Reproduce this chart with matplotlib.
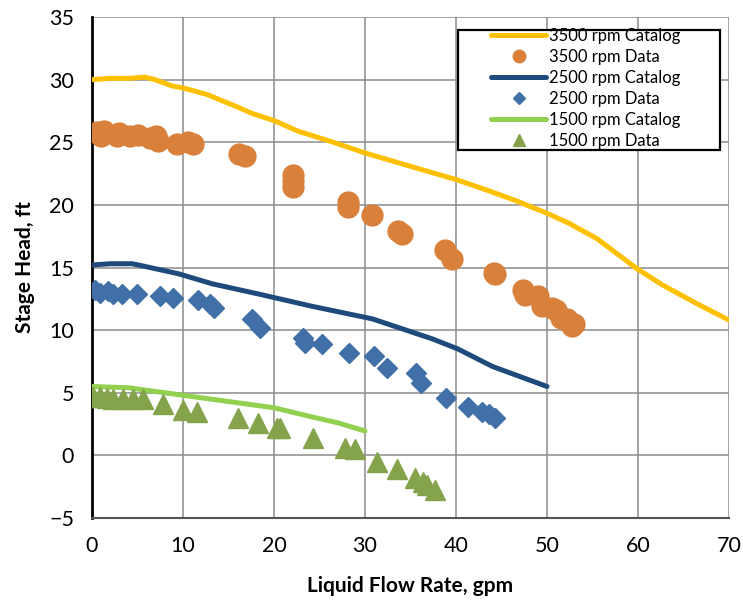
import matplotlib
matplotlib.use("Agg")
import matplotlib.pyplot as plt
from matplotlib.patches import Rectangle

plt.rcParams['font.family'] = ['Lato', 'DejaVu Sans']

# 3500 rpm
cat3500_x = [0, 2, 4, 5.8, 6.9, 8.8, 10.2, 12.7, 15.7, 17.6, 20.1, 22.6, 26.5, 30.2, 34.9, 40.1, 43.7, 46.7, 50.1, 52.5, 55.5, 59.9, 62.7, 66.5, 70]
cat3500_y = [30.0, 30.1, 30.1, 30.2, 30.0, 29.5, 29.3, 28.8, 27.9, 27.3, 26.7, 25.9, 25.0, 24.1, 23.1, 22.0, 21.1, 20.3, 19.3, 18.5, 17.3, 14.9, 13.6, 12.1, 10.8]
data3500_x = [0.5, 1.0, 1.3, 2.7, 3.0, 4.2, 5.0, 6.4, 7.0, 7.3, 9.3, 10.5, 11.1, 16.2, 16.8, 22.1, 22.1, 22.1, 28.1, 28.1, 30.8, 33.6, 34.1, 38.8, 39.6, 44.3, 44.2, 47.4, 47.6, 49.0, 49.4, 50.5, 51.0, 51.5, 52.2, 52.7, 53.0]
data3500_y = [25.8, 25.5, 25.9, 25.5, 25.7, 25.5, 25.6, 25.3, 25.5, 25.1, 24.9, 25.0, 24.9, 24.1, 23.9, 22.4, 21.9, 21.4, 20.2, 19.8, 19.2, 17.9, 17.7, 16.4, 15.7, 14.5, 14.6, 13.2, 12.8, 12.7, 11.9, 11.8, 11.6, 11.0, 10.9, 10.3, 10.5]

# 2500 rpm
cat2500_x = [0, 2, 4.4, 5.1, 9.5, 13.2, 18.2, 24.2, 30.8, 37.4, 40.2, 44.0, 50.0]
cat2500_y = [15.2, 15.3, 15.3, 15.2, 14.5, 13.7, 12.9, 11.9, 10.9, 9.3, 8.5, 7.1, 5.5]
data2500_x = [0.3, 0.9, 1.8, 2.3, 3.3, 4.9, 7.5, 8.9, 11.6, 13.0, 13.4, 17.6, 18.5, 23.2, 23.4, 25.3, 28.2, 31.0, 32.4, 35.6, 36.2, 38.9, 41.3, 42.9, 43.6, 44.3]
data2500_y = [13.2, 13.0, 13.1, 12.9, 12.9, 12.9, 12.7, 12.6, 12.4, 12.1, 11.8, 10.9, 10.2, 9.4, 9.0, 8.9, 8.2, 7.9, 7.0, 6.6, 5.8, 4.6, 3.9, 3.5, 3.3, 3.0]

# 1500 rpm
cat1500_x = [0, 4, 8, 12, 16, 20, 24, 27, 30]
cat1500_y = [5.5, 5.4, 5.0, 4.6, 4.2, 3.8, 3.1, 2.6, 1.95]
data1500_x = [0.1, 0.9, 1.6, 2.3, 3.4, 4.5, 5.6, 7.8, 10.0, 11.5, 16.0, 18.2, 20.3, 20.7, 24.3, 27.8, 28.9, 31.3, 33.5, 35.5, 36.4, 36.8, 37.7]
data1500_y = [4.7, 4.7, 4.6, 4.5, 4.5, 4.5, 4.5, 4.1, 3.6, 3.5, 3.0, 2.6, 2.2, 2.2, 1.4, 0.6, 0.5, -0.5, -1.1, -1.8, -2.1, -2.4, -2.8]

x_ticks = [0, 10, 20, 30, 40, 50, 60, 70]
y_ticks = [-5, 0, 5, 10, 15, 20, 25, 30, 35]

fig = plt.figure(figsize=(7.43, 6.09), dpi=100)
ax = fig.add_axes([92/743, 1 - 518/609, (729-92)/743, (518-17)/609])

lw = 3.6
ax.plot(cat3500_x, cat3500_y, color='#FFC000', lw=lw, solid_capstyle='round', solid_joinstyle='round', label='3500 rpm Catalog', zorder=3)
ax.plot(data3500_x, data3500_y, 'o', color='#D9803A', ms=15, mec='#D9803A', label='3500 rpm Data', zorder=4)
ax.plot(cat2500_x, cat2500_y, color='#1F4A7C', lw=lw, solid_capstyle='round', solid_joinstyle='round', label='2500 rpm Catalog', zorder=3)
ax.plot(data2500_x, data2500_y, 'D', color='#4170A8', ms=10, mec='#4170A8', label='2500 rpm Data', zorder=4)
ax.plot(cat1500_x, cat1500_y, color='#92D050', lw=lw, solid_capstyle='round', solid_joinstyle='round', label='1500 rpm Catalog', zorder=3)
ax.plot(data1500_x, data1500_y, '^', color='#84A34A', ms=14.5, mec='#84A34A', label='1500 rpm Data', zorder=4)

ax.set_xlim(0, 70)
ax.set_ylim(-5, 35)
ax.set_xticks(x_ticks)
ax.set_yticks(y_ticks)
ax.grid(True, color='#8C8C8C', lw=1.1)
ax.set_axisbelow(True)
for s in ['top', 'right']:
    ax.spines[s].set_visible(False)
ax.spines['left'].set_linewidth(2)
ax.spines['bottom'].set_linewidth(1.5)
ax.spines['left'].set_color('black')
ax.spines['bottom'].set_color('#555555')
ax.tick_params(length=0, labelsize=15.5, pad=13)

ax.set_xlabel('Liquid Flow Rate, gpm', fontsize=15, fontweight='bold', labelpad=14)
ax.set_ylabel('Stage Head, ft', fontsize=15, fontweight='bold', labelpad=10)

# legend box drawn separately (axes coords)
box = Rectangle(((458-92)/637, (518-150)/501), (720-458)/637, (150-30)/501,
                transform=ax.transAxes, facecolor='white', edgecolor='black',
                lw=1.6, zorder=5)
ax.add_patch(box)
leg = ax.legend(loc='upper left', bbox_to_anchor=((491-92)/637, (518-28)/501), fontsize=12,
                frameon=False, markerscale=0.6, handlelength=3.3, labelspacing=0.3,
                borderpad=0, handletextpad=0.2, borderaxespad=0)
leg.set_zorder(6)

fig.savefig('out.png', dpi=100)
